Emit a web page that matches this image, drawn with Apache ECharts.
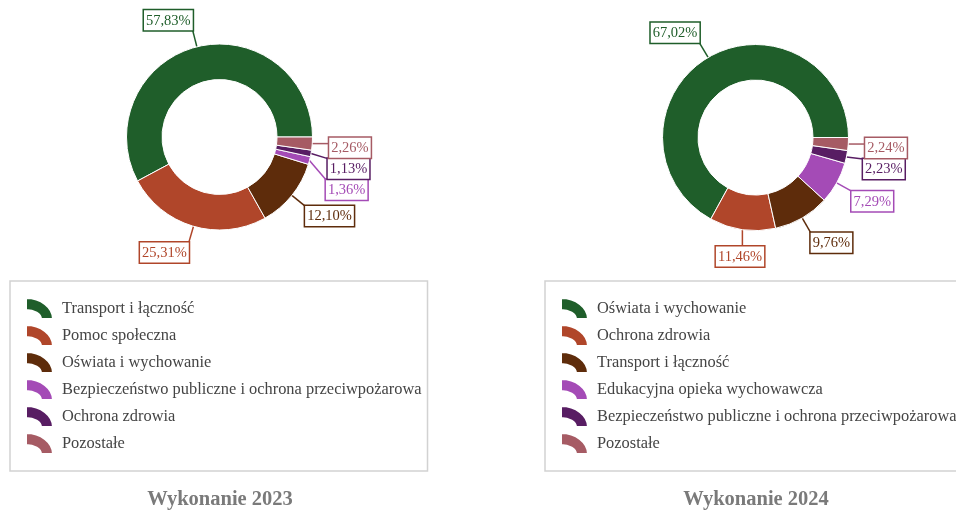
<!DOCTYPE html>
<html>
<head>
<meta charset="utf-8">
<script src="https://cdn.jsdelivr.net/npm/echarts@6/dist/echarts.min.js"></script>
<style>
  html, body { margin: 0; padding: 0; background: #fff; }
  #wrap { position: relative; width: 956px; height: 510px; overflow: hidden; }
  .panel { position: absolute; top: 0; height: 510px; }
</style>
</head>
<body>
<div id="wrap">
  <div id="panel2023" class="panel" style="left:0;width:478px"></div>
  <div id="panel2024" class="panel" style="left:478px;width:600px"></div>
</div>
<script>
// Slice colours, applied by rank within each year
const palette = ['#1f5e2a', '#b0462a', '#5e2c0b', '#a44bb6', '#581d63', '#a65b64'];

const categories2023 = [
  'Transport i łączność',
  'Pomoc społeczna',
  'Oświata i wychowanie',
  'Bezpieczeństwo publiczne i ochrona przeciwpożarowa',
  'Ochrona zdrowia',
  'Pozostałe'
];
const shares2023 = [57.83, 25.31, 12.10, 1.36, 1.13, 2.26];

const categories2024 = [
  'Oświata i wychowanie',
  'Ochrona zdrowia',
  'Transport i łączność',
  'Edukacyjna opieka wychowawcza',
  'Bezpieczeństwo publiczne i ochrona przeciwpożarowa',
  'Pozostałe'
];
const shares2024 = [67.02, 11.46, 9.76, 7.29, 2.23, 2.24];

const title2023 = 'Wykonanie 2023';
const title2024 = 'Wykonanie 2024';

const FONT = '"Liberation Serif", "Times New Roman", serif';
const LABEL_SIZE = 14.5;
const LABEL_LH = 17;
const LABEL_PAD = [2, 2, 1, 2];
const R_INNER = 57.5;
const R_OUTER = 93;
const LINE_LEN = 17;

// quarter-ring legend marker
const ARC_ICON = 'path://M0,0 A27,21 0 0 1 27,21 L15,21 A15,9 0 0 0 0,12 Z';

const fmt = v => v.toFixed(2).replace('.', ',') + '%';

// Place each value box beside its slice, then push overlapping boxes apart.
function placeLabels(values, cx, cy) {
  const total = values.reduce((a, b) => a + b, 0);
  const ctx = document.createElement('canvas').getContext('2d');
  ctx.font = LABEL_SIZE + 'px ' + FONT;
  let acc = 0;
  const boxes = values.map((v, i) => {
    const mid = (acc + v / 2) / total * Math.PI * 2;
    acc += v;
    const dx = Math.cos(mid), dy = -Math.sin(mid);
    const sx = cx + R_OUTER * dx, sy = cy + R_OUTER * dy;
    const px = cx + (R_OUTER + LINE_LEN) * dx, py = cy + (R_OUTER + LINE_LEN) * dy;
    const w = ctx.measureText(fmt(v)).width + LABEL_PAD[1] + LABEL_PAD[3];
    const h = LABEL_LH + LABEL_PAD[0] + LABEL_PAD[2];
    const fx = Math.abs(dx) < 0.2 ? 0 : Math.sign(dx);
    const fy = Math.max(-1, Math.min(1, dy * 4));
    return { i, sx, sy, w, h, side: dx >= 0 ? 1 : -1,
             bx: px + (fx - 1) * w / 2, by: py + (fy - 1) * h / 2 };
  });
  [1, -1].forEach(side => {
    const list = boxes.filter(b => b.side === side).sort((a, b) => a.by - b.by);
    for (let k = 1; k < list.length; k++) {
      const prev = list[k - 1];
      if (list[k].by < prev.by + prev.h + 1) list[k].by = prev.by + prev.h + 1;
    }
  });
  boxes.forEach(b => {
    b.ex = Math.max(b.bx, Math.min(b.bx + b.w, b.sx));
    b.ey = Math.max(b.by, Math.min(b.by + b.h, b.sy));
  });
  return boxes;
}

function buildOption(categories, values, titleText, cx, cy, legendLeft, titleX) {
  const boxes = placeLabels(values, cx, cy);
  return {
    animation: false,
    backgroundColor: '#fff',
    title: {
      text: titleText,
      left: titleX,
      top: 489,
      textAlign: 'center',
      padding: 0,
      textStyle: { fontFamily: FONT, fontSize: 20.5, fontWeight: 'bold', color: '#7a7a7a' }
    },
    legend: {
      orient: 'vertical',
      left: legendLeft,
      top: 281,
      padding: [16, 6, 16, 15],
      itemGap: 4,
      itemWidth: 27,
      itemHeight: 21,
      icon: ARC_ICON,
      selectedMode: false,
      borderColor: '#d2d2d2',
      borderWidth: 1.5,
      textStyle: { fontFamily: FONT, fontSize: 16.4, color: '#444', padding: [0, 0, 0, 4] },
      data: categories
    },
    series: [{
      type: 'pie',
      center: [cx, cy],
      radius: [R_INNER, R_OUTER],
      startAngle: 0,
      clockwise: false,
      avoidLabelOverlap: false,
      itemStyle: { borderColor: '#fff', borderWidth: 1 },
      label: {
        show: true,
        position: 'outside',
        formatter: p => fmt(p.value),
        fontFamily: FONT,
        fontSize: LABEL_SIZE,
        lineHeight: LABEL_LH,
        padding: LABEL_PAD,
        backgroundColor: '#fff',
        borderWidth: 1.5
      },
      labelLine: { show: true, length: LINE_LEN, length2: 0, lineStyle: { width: 1.5 } },
      labelLayout: p => {
        const b = boxes[p.dataIndex];
        return {
          x: b.bx, y: b.by, align: 'left', verticalAlign: 'top',
          labelLinePoints: [[b.sx, b.sy], [b.ex, b.ey]]
        };
      },
      data: categories.map((name, i) => ({
        name,
        value: values[i],
        itemStyle: { color: palette[i] },
        label: { color: palette[i], borderColor: palette[i] },
        labelLine: { lineStyle: { color: palette[i] } }
      }))
    }]
  };
}

const chart2023 = echarts.init(document.getElementById('panel2023'), null, { renderer: 'canvas' });
chart2023.setOption(buildOption(categories2023, shares2023, title2023, 219.5, 137, 10, 220));

const chart2024 = echarts.init(document.getElementById('panel2024'), null, { renderer: 'canvas' });
chart2024.setOption(buildOption(categories2024, shares2024, title2024, 277.5, 137.5, 67, 278));
</script>
</body>
</html>
